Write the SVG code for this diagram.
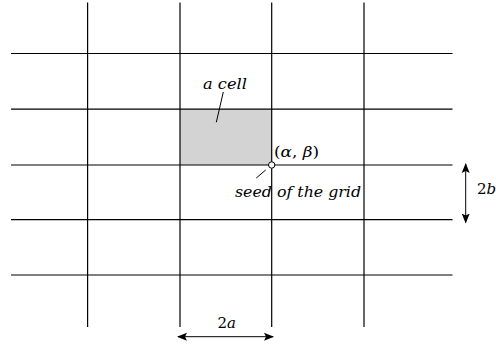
<svg xmlns="http://www.w3.org/2000/svg" width="496" height="346" viewBox="0 0 496 346">
<defs>
<style>
.g{stroke:#000;stroke-width:1.2;fill:none}
.t{font-family:'DejaVu Serif',serif;font-size:15px;fill:#000}
.i{font-style:italic}
.ld{stroke:#000;stroke-width:1;fill:none}
</style>
<marker id="ah" markerUnits="userSpaceOnUse" markerWidth="10" markerHeight="10" refX="9" refY="5" orient="auto-start-reverse" viewBox="0 0 10 10">
<path d="M0,1 L10,5 L0,9 L2,5 Z" fill="#000"/>
</marker>
</defs>
<rect width="496" height="346" fill="#fff"/>
<g id="cell">
<rect x="180" y="109.2" width="91.7" height="55.8" fill="#d3d3d3"/>
</g>
<g id="grid">
<line class="g" x1="87.6" y1="2.5" x2="87.6" y2="327"/>
<line class="g" x1="180" y1="2.5" x2="180" y2="327"/>
<line class="g" x1="271.7" y1="2.5" x2="271.7" y2="327"/>
<line class="g" x1="364" y1="2.5" x2="364" y2="327"/>
<line class="g" x1="11" y1="53.5" x2="452.5" y2="53.5"/>
<line class="g" x1="11" y1="109.2" x2="452.5" y2="109.2"/>
<line class="g" x1="11" y1="165" x2="452.5" y2="165"/>
<line class="g" x1="11" y1="219.6" x2="452.5" y2="219.6"/>
<line class="g" x1="11" y1="275" x2="452.5" y2="275"/>
</g>
<g id="connectors">
<line class="ld" x1="223.3" y1="92" x2="216.3" y2="122.3"/>
<line class="ld" x1="265.7" y1="170" x2="256.3" y2="178"/>
<line class="ld" x1="178" y1="336.7" x2="273" y2="336.7" marker-start="url(#ah)" marker-end="url(#ah)"/>
<line class="ld" x1="465.7" y1="164" x2="465.7" y2="222.5" marker-start="url(#ah)" marker-end="url(#ah)"/>
</g>
<g id="seed">
<circle cx="271.7" cy="165" r="3.2" fill="#fff" stroke="#000" stroke-width="1"/>
</g>
<g id="labels">
<text class="t i" x="203" y="89.3" textLength="44" lengthAdjust="spacingAndGlyphs">a cell</text>
<text class="t" x="274" y="156.7" textLength="45" lengthAdjust="spacingAndGlyphs">(<tspan class="i">α</tspan>, <tspan class="i">β</tspan>)</text>
<text class="t i" x="235" y="196.7" textLength="126" lengthAdjust="spacingAndGlyphs">seed of the grid</text>
<text class="t" x="217.5" y="327.5">2<tspan class="i">a</tspan></text>
<text class="t" x="477" y="194">2<tspan class="i">b</tspan></text>
</g>
</svg>
